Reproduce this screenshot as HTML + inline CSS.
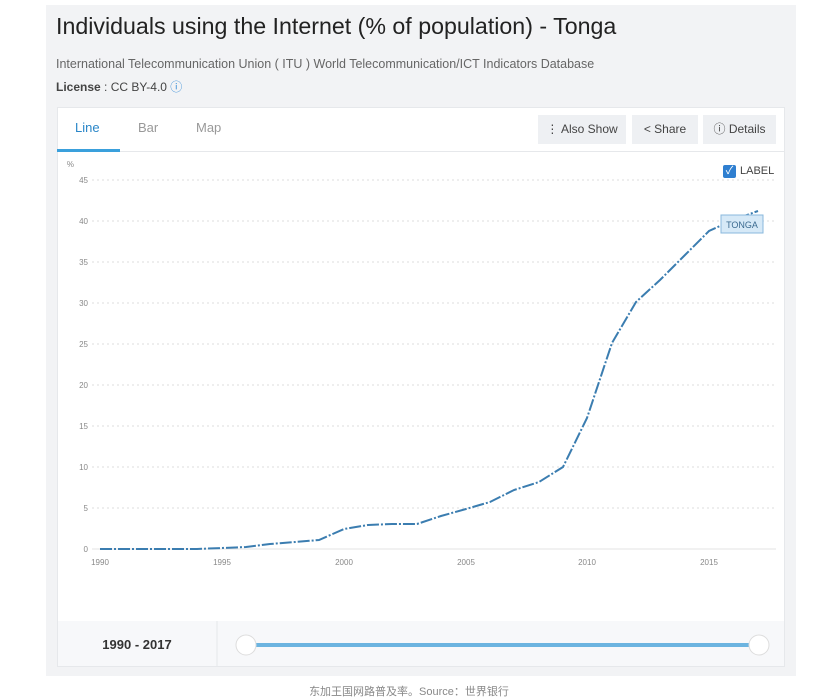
<!DOCTYPE html>
<html><head><meta charset="utf-8"><style>
body{margin:0;width:818px;height:700px;background:#fff;font-family:"Liberation Sans","Noto Sans CJK SC",sans-serif;position:relative;overflow:hidden}
.panel{position:absolute;left:46px;top:5px;width:750px;height:671px;background:#f2f3f5}
.card{position:absolute;left:57px;top:107px;width:728px;height:560px;background:#fff;border:1px solid #e6e8eb;box-sizing:border-box}
.abs{position:absolute;white-space:nowrap}
.btn{position:absolute;top:115px;height:29px;background:#eef0f3;font-size:12px;color:#444;line-height:29px;text-align:center}
</style></head><body>
<div class="panel"></div>
<div class="abs" style="left:56px;top:13px;font-size:23.2px;color:#222">Individuals using the Internet (% of population) - Tonga</div>
<div class="abs" style="left:56px;top:57px;font-size:12.5px;color:#666">International Telecommunication Union ( ITU ) World Telecommunication/ICT Indicators Database</div>
<div class="abs" style="left:56px;top:78px;font-size:12px;color:#444"><b>License</b> : CC BY-4.0 <span style="color:#3a8fd8">ⓘ</span></div>
<div class="card"></div>
<div class="abs" style="left:57px;top:151px;width:728px;height:1px;background:#e6e8eb"></div>
<div class="abs" style="left:75px;top:120px;font-size:13px;color:#2a86c8">Line</div>
<div class="abs" style="left:57px;top:149px;width:63px;height:3px;background:#3aa0dc"></div>
<div class="abs" style="left:138px;top:120px;font-size:13px;color:#999">Bar</div>
<div class="abs" style="left:196px;top:120px;font-size:13px;color:#999">Map</div>
<div class="btn" style="left:538px;width:88px">⋮ Also Show</div>
<div class="btn" style="left:632px;width:66px">&lt; Share</div>
<div class="btn" style="left:703px;width:73px">ⓘ Details</div>
<div class="abs" style="left:723px;top:165px;width:13px;height:13px;background:#2f7fd0;border-radius:2px;color:#fff;font-size:11px;line-height:13px;text-align:center">✓</div>
<div class="abs" style="left:740px;top:165px;font-size:11px;color:#444">LABEL</div>
<svg class="abs" style="left:0;top:0" width="818" height="700">
<g font-family="Liberation Sans" font-size="8" fill="#888" text-anchor="end">
<text x="74" y="167">%</text>
<g stroke="#ddd" stroke-dasharray="2,3">
<line x1="92" x2="776" y1="180" y2="180"/><line x1="92" x2="776" y1="221" y2="221"/><line x1="92" x2="776" y1="262" y2="262"/><line x1="92" x2="776" y1="303" y2="303"/><line x1="92" x2="776" y1="344" y2="344"/><line x1="92" x2="776" y1="385" y2="385"/><line x1="92" x2="776" y1="426" y2="426"/><line x1="92" x2="776" y1="467" y2="467"/><line x1="92" x2="776" y1="508" y2="508"/>
</g>
<line x1="92" x2="776" y1="549" y2="549" stroke="#e3e3e3"/>
<text x="88" y="183">45</text><text x="88" y="224">40</text><text x="88" y="265">35</text><text x="88" y="306">30</text><text x="88" y="347">25</text><text x="88" y="388">20</text><text x="88" y="429">15</text><text x="88" y="470">10</text><text x="88" y="511">5</text><text x="88" y="552">0</text>
<g text-anchor="middle"><text x="100" y="565">1990</text><text x="222" y="565">1995</text><text x="344" y="565">2000</text><text x="466" y="565">2005</text><text x="587" y="565">2010</text><text x="709" y="565">2015</text></g>
</g>
<polyline fill="none" stroke="#3b7db0" stroke-width="2" stroke-dasharray="12,2,2,2" points="100,549 124,549 149,549 173,549 197,549 222,548 246,547 270,544 295,542 319,540 344,529 368,525 392,524 417,524 441,516 466,509 490,502 514,490 539,482 563,467 587,418 612,343 636,302 660,280 685,255 709,231 733,220 758,211"/>
<rect x="721" y="215" width="42" height="18" fill="#d6e9f7" stroke="#8ab8dc"/>
<text x="742" y="228" font-family="Liberation Sans" font-size="9" fill="#3b6a90" text-anchor="middle">TONGA</text>
<rect x="58" y="621" width="726" height="45" fill="#f7f8fa"/>
<line x1="217" x2="217" y1="621" y2="666" stroke="#e6e8eb"/>
<text x="137" y="649" font-family="Liberation Sans" font-size="13" font-weight="bold" fill="#333" text-anchor="middle">1990 - 2017</text>
<line x1="247" x2="759" y1="645" y2="645" stroke="#6cb4e0" stroke-width="4"/>
<circle cx="246" cy="645" r="10" fill="#fff" stroke="#ddd"/><circle cx="759" cy="645" r="10" fill="#fff" stroke="#ddd"/>
</svg>
<div class="abs" style="left:0;width:818px;top:683px;text-align:center;font-size:11px;color:#888">东加王国网路普及率。Source：世界银行</div>
</body></html>
